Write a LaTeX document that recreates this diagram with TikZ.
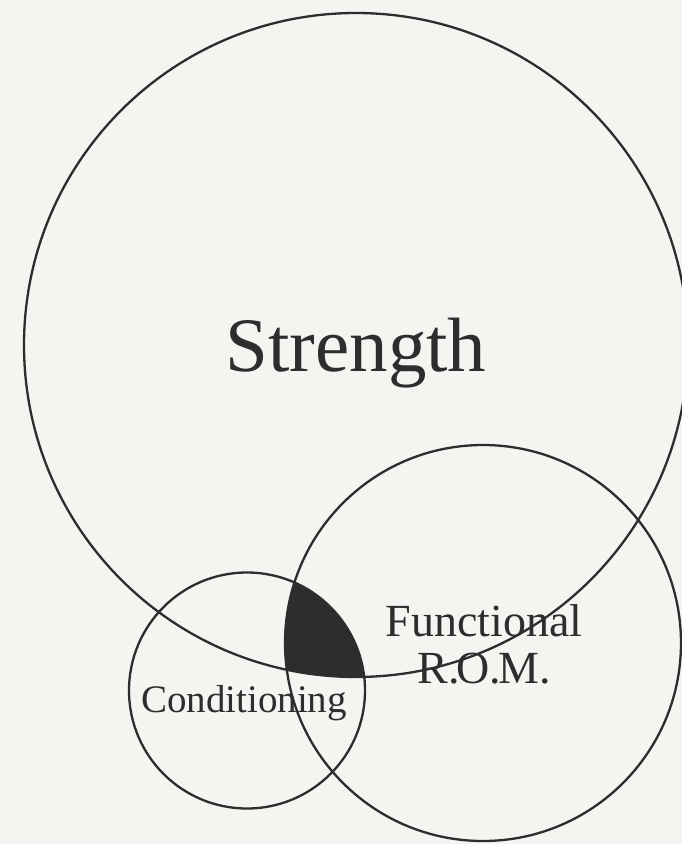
\documentclass[tikz,border=0pt]{standalone}
\usepackage{fontspec}
\setmainfont{Liberation Serif}
\definecolor{bg}{HTML}{F5F4F0}
\definecolor{ink}{HTML}{2D2D2F}
\begin{document}
\begin{tikzpicture}[x=1pt,y=-1pt,
  ring/.style={draw=ink,line width=2.3pt},
  lbl/.style={text=ink,inner sep=0pt,align=center}]
\useasboundingbox (0,0) rectangle (682,844);
\fill[bg] (0,0) rectangle (682,844);
\clip (0,0) rectangle (682,844);
\coordinate (cS) at (356,345);
\coordinate (cF) at (483,643);
\coordinate (cC) at (247,690.5);
\begin{scope}
  \clip (cS) circle[radius=332pt];
  \clip (cC) circle[radius=118pt];
  \fill[ink] (cF) circle[radius=198pt];
\end{scope}
\draw[ring] (cS) circle[radius=332pt];
\draw[ring] (cF) circle[radius=198pt];
\draw[ring] (cC) circle[radius=118pt];
\node[lbl,anchor=base,font=\fontsize{77}{80}\selectfont] (strength) at (356,371) {Strength};
\node[lbl,anchor=base,font=\fontsize{46}{47}\selectfont] (func) at (484,636) {Functional};
\node[lbl,anchor=base,font=\fontsize{46}{47}\selectfont] (rom) at (484,683) {R.\kern-3pt O.\kern-3pt M.};
\node[lbl,anchor=base,font=\fontsize{39}{40}\selectfont] (cond) at (244,712) {Conditioning};
\end{tikzpicture}
\end{document}
